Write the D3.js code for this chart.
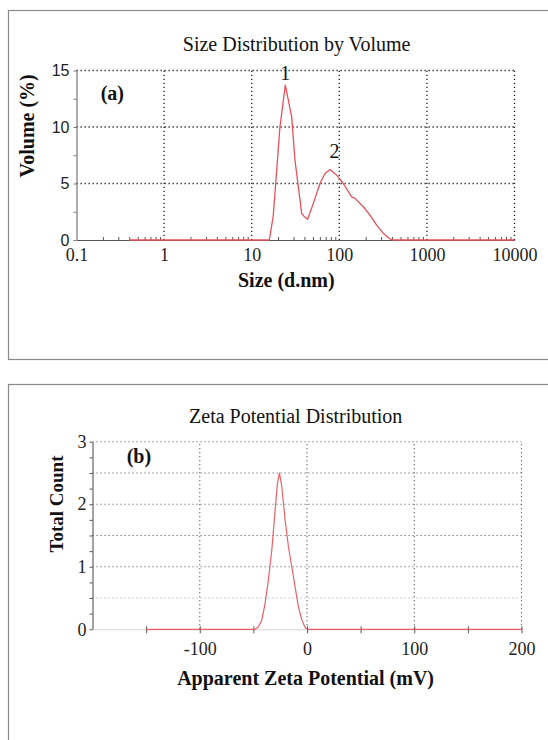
<!DOCTYPE html>
<html>
<head>
<meta charset="utf-8">
<script src="https://cdn.jsdelivr.net/npm/d3@7"></script>
<style>
  html, body { margin: 0; padding: 0; background: #fff; }
  svg { display: block; }
  .serif { font-family: "Liberation Serif", "Times New Roman", serif; }
  .sans { font-family: "Liberation Sans", Arial, sans-serif; }
</style>
</head>
<body>
<svg id="chart" width="548" height="740"></svg>
<script>
// ---------- Data (a): size distribution by volume ----------
const sizeNm     = [0.4, 1, 10, 15.9, 17.6, 19.3, 21.0, 24.2, 28.6, 31.2, 37.2, 40.0, 43.5, 50.5, 60.2, 68.7, 78.4, 93.3, 111, 138.6, 151, 188, 224, 267, 318, 379, 413, 1000, 10000];
const volumePct  = [0,   0, 0,  0,    2.1,  6.2,  10.0, 13.7, 10.9, 7.06, 2.35, 2.05, 1.83, 3.24, 5.0,  5.89, 6.24, 5.74, 5.0, 3.82,  3.68, 2.94, 2.2, 1.32, 0.59, 0.09, 0, 0, 0];
const sizeTicks       = [0.1, 1, 10, 100, 1000, 10000];
const sizeTickLabels  = ["0.1", "1", "10", "100", "1000", "10000"];
const volumeTicks     = [0, 5, 10, 15];
const volumeMinor     = [2.5, 7.5, 12.5];
const peakLabels      = ["1", "2"];
const peakSizes       = [24.2, 88];
const peakVolumes     = [13.7, 6.24];

// ---------- Data (b): zeta potential distribution ----------
const zetaMv    = [-150, -48.3, -45.3, -42.1, -39.0, -36.0, -32.8, -29.7, -27.6, -25.7, -23.5, -20.4, -17.3, -14.2, -11.1, -8.0, -4.8, -1.8, 0.4, 200];
const zetaCount = [0,    0,     0.04,  0.15,  0.42,  0.79,  1.27,  1.91,  2.33,  2.50,  2.28,  1.75,  1.32,  1.0,   0.68,  0.36, 0.15, 0.03, 0,   0];
const zetaTicks      = [-100, 0, 100, 200];
const zetaTickLabels = ["-100", "0", "100", "200"];
const zetaMinor      = [-150, -50, 50, 150];
const countTicks     = [0, 1, 2, 3];
const countTickLabels = ["0", "1", "2", "3"];
const countGrid      = [0.5, 1, 1.5, 2, 2.5, 3];
const countMinor     = [0.25, 0.5, 0.75, 1.25, 1.5, 1.75, 2.25, 2.5, 2.75];

const svg = d3.select("#chart");
const red = "#e8505a";

// Panel borders
svg.append("rect").attr("x", 8.5).attr("y", 10.5).attr("width", 545).attr("height", 349)
  .attr("fill", "none").attr("stroke", "#8a8a8a").attr("stroke-width", 1.2);
svg.append("rect").attr("x", 8.5).attr("y", 384.5).attr("width", 545).attr("height", 400)
  .attr("fill", "none").attr("stroke", "#8a8a8a").attr("stroke-width", 1.2);

// ================= Panel (a) =================
const xA = d3.scaleLog().domain([0.1, 10000]).range([76.5, 514.5]);
const yA = d3.scaleLinear().domain([0, 15]).range([240, 70.5]);
const gA = svg.append("g");

// grid
const gridA = gA.append("g").attr("stroke", "#222").attr("stroke-width", 1.3).attr("stroke-dasharray", "1.3,2.7");
gridA.selectAll("line.h").data(volumeTicks.filter(d => d > 0)).join("line")
  .attr("x1", xA(0.1)).attr("x2", xA(10000)).attr("y1", d => yA(d)).attr("y2", d => yA(d));
gridA.selectAll("line.v").data(sizeTicks.filter(d => d > 0.1)).join("line")
  .attr("x1", d => xA(d)).attr("x2", d => xA(d)).attr("y1", yA(0)).attr("y2", yA(15));

// minor x ticks (upward)
const minorSize = [];
for (let dec = 0.1; dec < 10000; dec *= 10) for (let k = 2; k <= 9; k++) minorSize.push(+(dec * k).toPrecision(3));
gA.append("g").attr("transform", `translate(0,${yA(0)})`)
  .call(d3.axisBottom(xA).tickValues(minorSize).tickSize(-3).tickFormat(""))
  .call(g => g.select(".domain").remove())
  .call(g => g.selectAll(".tick line").attr("stroke", "#555"));

// x axis
gA.append("g").attr("transform", `translate(0,${yA(0)})`)
  .call(d3.axisBottom(xA).tickValues(sizeTicks).tickSize(0).tickPadding(8)
    .tickFormat((d, i) => sizeTickLabels[i]))
  .call(g => g.select(".domain").attr("stroke", "#555").attr("stroke-width", 1.2))
  .call(g => g.selectAll("text").attr("font-size", 18)
    .attr("font-family", "Liberation Serif").attr("fill", "#222"));

// y axis
gA.append("g").attr("transform", `translate(${xA(0.1)},0)`)
  .call(d3.axisLeft(yA).tickValues(volumeTicks).tickSize(3).tickPadding(4).tickSizeOuter(0)
    .tickFormat(d => String(d)))
  .call(g => g.select(".domain").attr("stroke", "#777").attr("stroke-width", 1.2))
  .call(g => g.selectAll(".tick line").attr("stroke", "#777"))
  .call(g => g.selectAll("text").attr("font-size", 16)
    .attr("font-family", "Liberation Sans").attr("fill", "#222"));
gA.append("g").attr("transform", `translate(${xA(0.1)},0)`)
  .call(d3.axisLeft(yA).tickValues(volumeMinor).tickSize(3).tickFormat(""))
  .call(g => g.select(".domain").remove())
  .call(g => g.selectAll(".tick line").attr("stroke", "#777"));

// curve
const lineA = d3.line().x(d => xA(d[0])).y(d => yA(d[1]));
gA.append("path").datum(sizeNm.map((s, i) => [s, volumePct[i]]))
  .attr("d", lineA).attr("fill", "none").attr("stroke", red).attr("stroke-width", 1.3)
  .attr("stroke-linejoin", "round");

// texts
gA.append("text").attr("class", "serif").attr("x", 296.6).attr("y", 50.5)
  .attr("text-anchor", "middle").attr("font-size", 20).attr("fill", "#111")
  .text("Size Distribution by Volume");
gA.append("text").attr("class", "serif").attr("x", 100.7).attr("y", 100)
  .attr("font-size", 20).attr("font-weight", "bold").attr("fill", "#111").text("(a)");
gA.selectAll("text.peak").data(peakLabels).join("text").attr("class", "serif peak")
  .attr("x", (d, i) => xA(peakSizes[i]))
  .attr("y", (d, i) => yA(peakVolumes[i]) - (i === 0 ? 5 : 11.5))
  .attr("text-anchor", "middle").attr("font-size", 20).attr("fill", "#111").text(d => d);
gA.append("text").attr("class", "serif").attr("x", 286.3).attr("y", 287.3)
  .attr("text-anchor", "middle").attr("font-size", 20).attr("font-weight", "bold").attr("fill", "#111")
  .text("Size (d.nm)");
gA.append("text").attr("class", "serif").attr("transform", "translate(34,125.8) rotate(-90)")
  .attr("text-anchor", "middle").attr("font-size", 20).attr("font-weight", "bold").attr("fill", "#111")
  .text("Volume (%)");

// ================= Panel (b) =================
const xB = d3.scaleLinear().domain([-200, 200]).range([92.5, 521.5]);
const yB = d3.scaleLinear().domain([0, 3]).range([629.3, 441.7]);
const gB = svg.append("g");

const gridB = gB.append("g").attr("stroke", "#6a6a6a").attr("stroke-width", 1.1).attr("stroke-dasharray", "1.2,2.8");
gridB.selectAll("line.h").data(countGrid).join("line")
  .attr("x1", xB(-200)).attr("x2", xB(200)).attr("y1", d => yB(d)).attr("y2", d => yB(d))
  .attr("stroke", d => d === 0.5 ? "#aaa" : null);
gridB.selectAll("line.v").data(zetaTicks).join("line")
  .attr("x1", d => xB(d)).attr("x2", d => xB(d)).attr("y1", yB(0)).attr("y2", yB(3));

// x axis
gB.append("g").attr("transform", `translate(0,${yB(0)})`)
  .call(d3.axisBottom(xB).tickValues(zetaTicks).tickSize(4).tickPadding(9).tickSizeOuter(0)
    .tickFormat((d, i) => zetaTickLabels[i]))
  .call(g => g.select(".domain").attr("stroke", "#d5d5d5"))
  .call(g => g.selectAll(".tick line").attr("y1", -3).attr("stroke", "#555"))
  .call(g => g.selectAll("text").attr("font-size", 18)
    .attr("font-family", "Liberation Serif").attr("fill", "#222"));
gB.append("g").attr("transform", `translate(0,${yB(0)})`)
  .call(d3.axisBottom(xB).tickValues(zetaMinor).tickSize(4).tickFormat(""))
  .call(g => g.select(".domain").remove())
  .call(g => g.selectAll(".tick line").attr("y1", -3).attr("stroke", "#555"));

// y axis
gB.append("g").attr("transform", `translate(${xB(-200)},0)`)
  .call(d3.axisLeft(yB).tickValues(countTicks).tickSize(3).tickPadding(3).tickSizeOuter(0)
    .tickFormat((d, i) => countTickLabels[i]))
  .call(g => g.select(".domain").attr("stroke", "#555").attr("stroke-width", 1.1))
  .call(g => g.selectAll(".tick line").attr("stroke", "#555"))
  .call(g => g.selectAll("text").attr("font-size", 18)
    .attr("font-family", "Liberation Serif").attr("fill", "#222"));
gB.append("g").attr("transform", `translate(${xB(-200)},0)`)
  .call(d3.axisLeft(yB).tickValues(countMinor).tickSize(3).tickFormat(""))
  .call(g => g.select(".domain").remove())
  .call(g => g.selectAll(".tick line").attr("stroke", "#555"));

// curve
const lineB = d3.line().x(d => xB(d[0])).y(d => yB(d[1]));
gB.append("path").datum(zetaMv.map((v, i) => [v, zetaCount[i]]))
  .attr("d", lineB).attr("fill", "none").attr("stroke", red).attr("stroke-width", 1.2)
  .attr("stroke-linejoin", "round").attr("stroke-opacity", 0.9);

// texts
gB.append("text").attr("class", "serif").attr("x", 295.7).attr("y", 423.3)
  .attr("text-anchor", "middle").attr("font-size", 20).attr("fill", "#111")
  .text("Zeta Potential Distribution");
gB.append("text").attr("class", "serif").attr("x", 126.7).attr("y", 463.3)
  .attr("font-size", 20).attr("font-weight", "bold").attr("fill", "#111").text("(b)");
gB.append("text").attr("class", "serif").attr("x", 305.6).attr("y", 685)
  .attr("text-anchor", "middle").attr("font-size", 20).attr("font-weight", "bold").attr("fill", "#111")
  .text("Apparent Zeta Potential (mV)");
gB.append("text").attr("class", "serif").attr("transform", "translate(63,504) rotate(-90)")
  .attr("text-anchor", "middle").attr("font-size", 19).attr("font-weight", "bold").attr("fill", "#111")
  .text("Total Count");
</script>
</body>
</html>
